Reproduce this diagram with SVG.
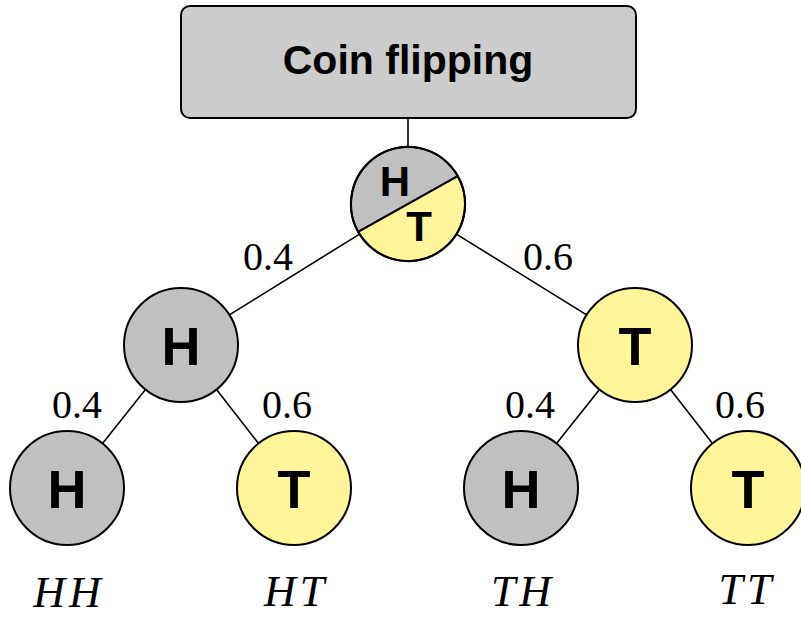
<svg xmlns="http://www.w3.org/2000/svg" width="801" height="617" viewBox="0 0 801 617">
<style>
.gray{fill:#c0c0c0;stroke:#000;stroke-width:2}
.yel{fill:#fff69b;stroke:#000;stroke-width:2}
.nl{font-family:"Liberation Sans",Arial,sans-serif;font-weight:bold;font-size:54px;text-anchor:middle}
.rl{font-family:"Liberation Sans",Arial,sans-serif;font-weight:bold;font-size:42px;text-anchor:middle}
.pl{font-family:"Liberation Serif","Times New Roman",serif;font-size:40px;text-anchor:middle}
.ol{font-family:"Liberation Serif","Times New Roman",serif;font-style:italic;font-size:44px;text-anchor:middle;letter-spacing:4px}
.edge{stroke:#000;stroke-width:1.6;fill:none}
</style>
<g id="connectors">
<line class="edge" x1="408" y1="118" x2="408" y2="147"/>
<line class="edge" x1="359.6" y1="234.1" x2="229.4" y2="314.9"/>
<line class="edge" x1="456.4" y1="234.1" x2="586.6" y2="314.9"/>
<line class="edge" x1="145.5" y1="389.6" x2="102.5" y2="443.4"/>
<line class="edge" x1="216.5" y1="389.6" x2="258.5" y2="443.4"/>
<line class="edge" x1="599.5" y1="389.6" x2="556.5" y2="443.4"/>
<line class="edge" x1="670.5" y1="389.6" x2="712.5" y2="443.4"/>
</g>
<g id="title">
<rect x="181" y="6" width="455" height="112" rx="9" fill="#cccccc" stroke="#000" stroke-width="2"/>
<text x="408" y="74" font-family="'Liberation Sans',Arial,sans-serif" font-weight="bold" font-size="41" text-anchor="middle">Coin flipping</text>
</g>
<g id="root">
<path class="gray" d="M358.2 231.8 A57 57 0 0 1 457.8 176.2 Z"/>
<path class="yel" d="M358.2 231.8 A57 57 0 0 0 457.8 176.2 Z"/>
<circle cx="408" cy="204" r="57" fill="none" stroke="#000" stroke-width="2"/>
<text class="rl" x="395" y="196">H</text>
<text class="rl" x="419" y="241">T</text>
</g>
<g id="h1">
<circle class="gray" cx="181" cy="345" r="57"/>
<text class="nl" x="181" y="365">H</text>
</g>
<g id="t1">
<circle class="yel" cx="635" cy="345" r="57"/>
<text class="nl" x="635" y="365">T</text>
</g>
<g id="hh">
<circle class="gray" cx="67" cy="488" r="57"/>
<text class="nl" x="67" y="508">H</text>
</g>
<g id="ht">
<circle class="yel" cx="294" cy="488" r="57"/>
<text class="nl" x="294" y="508">T</text>
</g>
<g id="th">
<circle class="gray" cx="521" cy="488" r="57"/>
<text class="nl" x="521" y="508">H</text>
</g>
<g id="tt">
<circle class="yel" cx="748" cy="488" r="57"/>
<text class="nl" x="748" y="508">T</text>
</g>
<g id="probs">
<text class="pl" x="268" y="270">0.4</text>
<text class="pl" x="548" y="270">0.6</text>
<text class="pl" x="77" y="418">0.4</text>
<text class="pl" x="287" y="418">0.6</text>
<text class="pl" x="530" y="418">0.4</text>
<text class="pl" x="740" y="418">0.6</text>
</g>
<g id="outcomes">
<text class="ol" x="69" y="607">HH</text>
<text class="ol" x="296" y="606">HT</text>
<text class="ol" x="523" y="606">TH</text>
<text class="ol" x="747" y="604">TT</text>
</g>
</svg>
